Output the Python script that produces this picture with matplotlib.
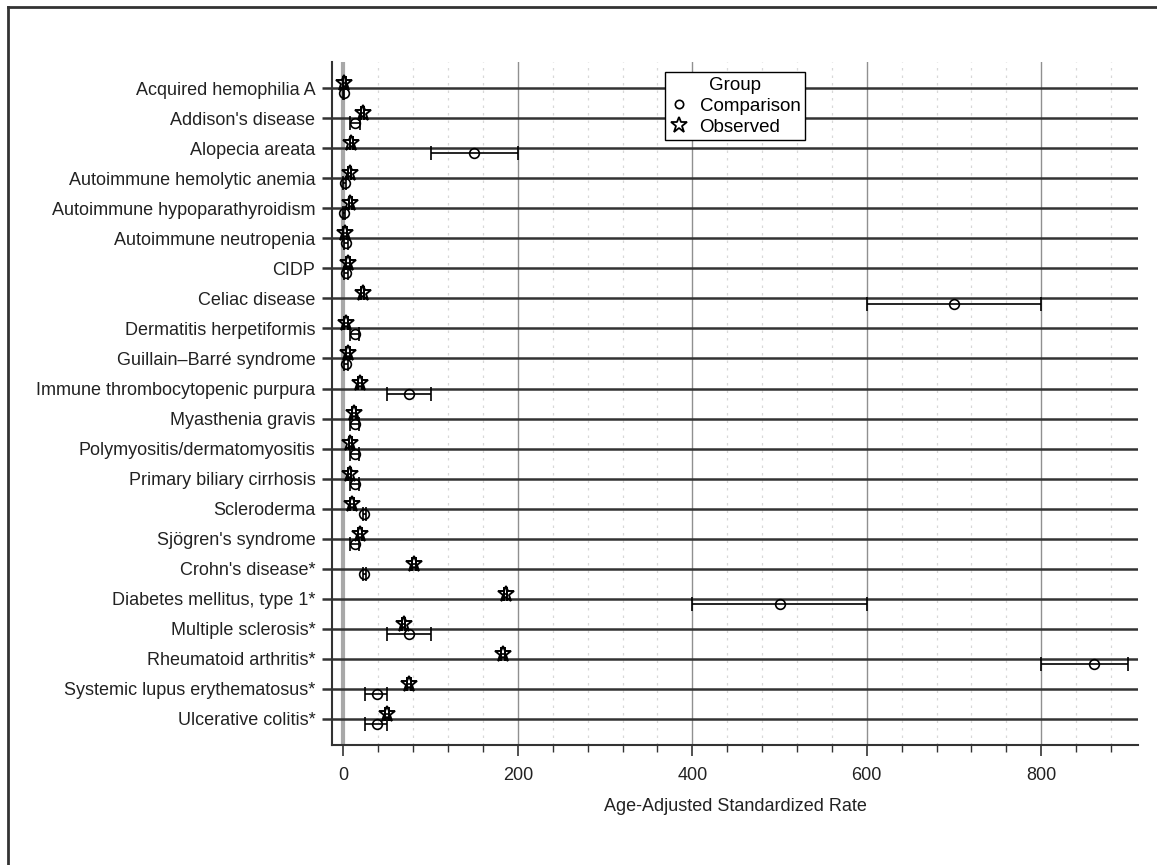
import numpy as np
import matplotlib
matplotlib.use("Agg")
import matplotlib.pyplot as plt
from matplotlib.lines import Line2D
from matplotlib.ticker import MultipleLocator

plt.rcParams['font.family'] = ['Liberation Sans', 'DejaVu Sans']

categories = [
    "Acquired hemophilia A", "Addison's disease", "Alopecia areata",
    "Autoimmune hemolytic anemia", "Autoimmune hypoparathyroidism",
    "Autoimmune neutropenia", "CIDP", "Celiac disease",
    "Dermatitis herpetiformis", "Guillain\u2013Barr\u00e9 syndrome",
    "Immune thrombocytopenic purpura", "Myasthenia gravis",
    "Polymyositis/dermatomyositis", "Primary biliary cirrhosis",
    "Scleroderma", "Sj\u00f6gren's syndrome", "Crohn's disease*",
    "Diabetes mellitus, type 1*", "Multiple sclerosis*",
    "Rheumatoid arthritis*", "Systemic lupus erythematosus*",
    "Ulcerative colitis*",
]

observed = [1, 22, 9, 7, 8, 2, 5, 22, 3, 5, 19, 12, 8, 7, 10, 19, 81, 186, 69, 183, 75, 50]
observed_lo = [0, 20, 7, 5, 6, 0, 3, 20, 1, 3, 17, 10, 6, 5, 8, 17, 79, 184, 67, 181, 73, 48]
observed_hi = [3, 24, 11, 9, 10, 4, 7, 24, 5, 7, 21, 14, 10, 9, 12, 21, 83, 188, 71, 185, 77, 52]

comparison = [0.5, 13, 150, 1.5, 1, 3, 3, 700, 13, 3, 75, 13, 13, 13, 24, 13, 24, 500, 75, 860, 38, 38]
comparison_lo = [0, 7, 100, 0, 0, 1, 1, 600, 8, 1, 50, 8, 8, 8, 22, 8, 22, 400, 50, 800, 25, 25]
comparison_hi = [1, 19, 200, 3, 2, 5, 5, 800, 18, 5, 100, 18, 18, 18, 26, 18, 26, 600, 100, 900, 50, 50]

xticks = [0, 200, 400, 600, 800]

FS = 13

fig = plt.figure(figsize=(11.57, 8.65), dpi=100)
ax = fig.add_axes([0.287, 0.1387, 0.6966, 0.7896])

y = np.arange(len(categories))
obs = np.array(observed, float)
comp = np.array(comparison, float)

ax.axvline(0, color='#a8a8a8', lw=3, zorder=1)

ax.errorbar(comp, y + 0.17,
            xerr=[comp - np.array(comparison_lo), np.array(comparison_hi) - comp],
            fmt='o', ms=7, mfc='none', mec='black', mew=1.2,
            ecolor='black', elinewidth=1.2, capsize=5, capthick=1.2,
            zorder=4, label='Comparison')
ax.errorbar(obs, y - 0.17,
            xerr=[obs - np.array(observed_lo), np.array(observed_hi) - obs],
            fmt='*', ms=12, mfc='none', mec='black', mew=1.4,
            ecolor='black', elinewidth=1.2, capsize=5, capthick=1.2,
            zorder=4, label='Observed')

ax.set_xlim(-13, 911)
ax.set_ylim(21.87, -0.87)
ax.set_yticks(y)
ax.set_yticklabels(categories)
ax.set_xticks(xticks)
ax.xaxis.set_minor_locator(MultipleLocator(40))

ax.grid(False)
for v in y:
    ax.axhline(v, color='#333333', lw=1.8, zorder=2)
for v in xticks[1:]:
    ax.axvline(v, color='#909090', lw=1.0, zorder=1)
for v in np.arange(40, 911, 40):
    if v % 200:
        ax.axvline(v, color='#d8d8d8', lw=0.9, ls=(0, (2, 4)), zorder=0)

for s in ['top', 'right']:
    ax.spines[s].set_visible(False)
for s in ['left', 'bottom']:
    ax.spines[s].set_color('#333333')
    ax.spines[s].set_linewidth(1.5)

ax.tick_params(axis='y', length=7, width=1.8, color='#333333', labelsize=FS, pad=5,
               labelcolor='#222222')
ax.tick_params(axis='x', which='major', length=8, width=1.2, color='#333333', labelsize=FS,
               pad=8, labelcolor='#222222')
ax.tick_params(axis='x', which='minor', length=5, width=1.0, color='#333333')

ax.set_xlabel('Age-Adjusted Standardized Rate', fontsize=FS, labelpad=10, color='#222222')

handles = [
    Line2D([], [], marker='o', ls='none', ms=6, mfc='none', mec='black', mew=1.2),
    Line2D([], [], marker='*', ls='none', ms=12, mfc='none', mec='black', mew=1.3),
]
leg = ax.legend(handles, ['Comparison', 'Observed'], title='Group',
                loc='upper left', bbox_to_anchor=(0.413, 0.985), borderaxespad=0,
                fontsize=13.5, title_fontsize=13.5, frameon=True, fancybox=False,
                handlelength=1.0, handletextpad=0.6, borderpad=0.25,
                labelspacing=0.2, framealpha=1)
leg.get_frame().set_edgecolor('black')
leg.get_frame().set_linewidth(1.0)
leg.set_zorder(10)

fig.add_artist(Line2D([8 / 1157, 8 / 1157], [0, 1 - 7 / 865], color='#333333', lw=2))
fig.add_artist(Line2D([8 / 1157, 1], [1 - 7 / 865, 1 - 7 / 865], color='#333333', lw=2))

fig.savefig('out.png', dpi=100)
